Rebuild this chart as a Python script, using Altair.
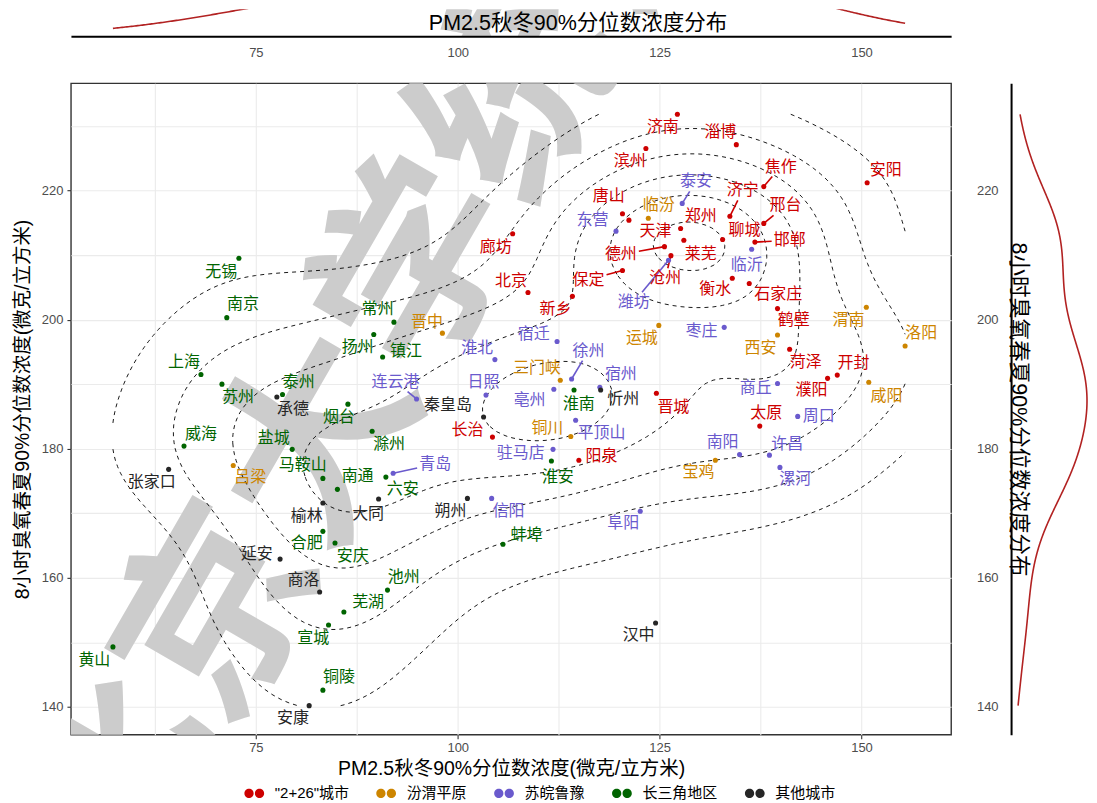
import numpy as np
import pandas as pd
import altair as alt
from collections import defaultdict

# ---------------- data ----------------
GROUPS = ['"2+26"城市', '汾渭平原', '苏皖鲁豫', '长三角地区', '其他城市']
COLORS = ['#CD0000', '#CD8500', '#6A5ACD', '#006400', '#262626']

g1_city = ["济南", "淄博", "滨州", "焦作", "安阳", "济宁", "邢台", "唐山", "天津", "郑州", "莱芜", "聊城", "邯郸", "廊坊", "北京",
           "德州", "沧州", "保定", "衡水", "石家庄", "新乡", "鹤壁", "菏泽", "开封", "濮阳", "太原", "晋城", "长治", "阳泉"]
g1_pm = [127.2, 134.5, 123.3, 137.9, 150.7, 133.7, 137.9, 120.4, 121.2, 127.6, 128.0, 132.8, 136.8, 106.8, 108.7,
         125.6, 126.4, 120.4, 134.0, 136.1, 114.2, 139.6, 141.1, 147.0, 145.8, 137.4, 124.6, 104.3, 115.0]
g1_o3 = [231.8, 227.1, 226.5, 220.6, 221.2, 216.0, 214.9, 216.4, 215.4, 214.1, 212.3, 212.4, 212.0, 213.3, 204.2,
         211.3, 209.9, 207.6, 206.4, 205.6, 203.6, 201.7, 195.4, 191.4, 190.9, 183.5, 188.6, 181.8, 178.2]
g1_lx = [125.4, 132.5, 121.3, 140.0, 153.0, 135.3, 140.6, 118.7, 124.5, 130.1, 130.1, 135.5, 141.1, 104.7, 106.6,
         120.2, 125.7, 116.2, 131.9, 139.7, 112.1, 141.6, 143.1, 149.0, 143.8, 138.2, 126.7, 101.2, 117.8]
g1_ly = [229.9, 229.0, 224.5, 223.7, 223.1, 220.0, 217.7, 219.1, 213.7, 216.0, 210.1, 213.8, 212.3, 211.2, 205.9,
         210.1, 206.4, 206.2, 204.7, 203.9, 201.6, 200.0, 193.4, 193.2, 189.1, 185.5, 186.4, 182.9, 178.8]

g2_city = ["临汾", "晋中", "运城", "三门峡", "铜川", "渭南", "西安", "洛阳", "咸阳", "宝鸡", "吕梁"]
g2_pm = [123.6, 98.1, 124.9, 112.7, 114.0, 150.6, 139.6, 155.4, 150.9, 131.9, 72.2]
g2_o3 = [215.7, 197.9, 199.1, 190.6, 181.9, 201.9, 197.6, 195.9, 190.3, 178.2, 177.4]
g2_lx = [124.9, 96.2, 122.8, 109.8, 111.1, 148.4, 137.5, 157.4, 153.1, 129.8, 74.3]
g2_ly = [217.8, 199.6, 197.1, 192.5, 183.2, 199.9, 195.6, 197.9, 188.1, 176.4, 175.6]

g3_city = ["泰安", "东营", "临沂", "潍坊", "枣庄", "宿迁", "淮北", "徐州", "宿州", "日照", "亳州", "连云港", "商丘", "周口",
           "平顶山", "驻马店", "青岛", "南阳", "许昌", "漯河", "信阳", "阜阳"]
g3_pm = [127.8, 119.6, 136.4, 126.1, 133.0, 112.3, 104.6, 114.1, 117.6, 103.5, 111.9, 94.9, 139.6, 142.1,
         114.6, 111.8, 92.0, 134.9, 138.6, 139.9, 104.2, 122.6]
g3_o3 = [218.0, 213.7, 210.9, 209.2, 198.8, 196.6, 193.8, 190.8, 189.5, 188.3, 189.2, 187.7, 190.1, 185.0,
         184.4, 179.9, 176.2, 179.1, 179.0, 177.1, 172.3, 170.3]
g3_lx = [129.5, 116.7, 135.8, 121.8, 130.2, 109.4, 102.4, 116.2, 120.2, 103.2, 108.9, 92.3, 136.9, 144.7,
         117.8, 107.8, 97.2, 132.8, 140.8, 141.8, 106.3, 120.5]
g3_ly = [221.4, 215.4, 208.4, 202.7, 198.3, 197.7, 195.6, 195.2, 191.5, 190.4, 187.5, 190.4, 189.4, 185.0,
         182.4, 179.3, 177.6, 181.0, 180.7, 175.3, 170.3, 168.5]

g4_city = ["无锡", "南京", "常州", "扬州", "镇江", "上海", "苏州", "泰州", "烟台", "威海", "盐城", "滁州", "马鞍山", "南通",
           "六安", "淮南", "淮安", "合肥", "安庆", "池州", "芜湖", "宣城", "铜陵", "黄山", "蚌埠"]
g4_pm = [72.9, 71.4, 92.1, 89.6, 90.7, 68.2, 70.8, 78.3, 86.4, 66.1, 79.5, 89.4, 83.3, 85.1,
         91.1, 114.4, 111.6, 83.3, 84.8, 91.3, 85.9, 84.0, 83.3, 57.3, 105.6]
g4_o3 = [209.5, 200.3, 199.6, 197.7, 194.2, 191.5, 190.0, 188.4, 186.9, 180.4, 179.9, 182.7, 175.4, 173.7,
         175.6, 189.1, 178.1, 167.2, 165.4, 158.1, 154.7, 152.7, 142.6, 149.3, 165.2]
g4_lx = [70.7, 73.4, 90.1, 87.6, 93.6, 66.1, 72.8, 80.3, 85.3, 68.2, 77.2, 91.5, 80.8, 87.6,
         93.2, 115.0, 112.4, 81.3, 87.0, 93.3, 88.9, 82.1, 85.3, 55.0, 108.5]
g4_ly = [207.3, 202.4, 201.6, 195.7, 195.1, 193.4, 188.0, 190.4, 184.9, 182.2, 181.6, 180.7, 177.4, 175.7,
         173.7, 187.0, 175.6, 165.4, 163.4, 160.1, 156.2, 150.7, 144.6, 147.3, 166.6]

g5_city = ["承德", "秦皇岛", "忻州", "张家口", "榆林", "大同", "朔州", "延安", "商洛", "安康", "汉中"]
g5_pm = [77.6, 103.2, 117.7, 64.2, 83.3, 90.2, 101.2, 78.0, 82.9, 81.6, 124.5]
g5_o3 = [188.0, 184.9, 189.1, 176.8, 171.6, 172.2, 172.3, 162.9, 157.8, 140.2, 153.0]
g5_lx = [79.6, 98.8, 120.5, 62.1, 81.3, 88.9, 99.1, 75.1, 80.9, 79.6, 122.4]
g5_ly = [186.1, 186.7, 187.7, 174.8, 169.6, 169.9, 170.3, 163.7, 159.7, 138.3, 151.1]

# labels drawn away from their point with a connector
seg_city = ["焦作", "济宁", "邢台", "邯郸", "泰安", "德州", "沧州", "潍坊", "保定", "徐州", "连云港", "青岛"]

X_TITLE = "PM2.5秋冬90%分位数浓度(微克/立方米)"
Y_TITLE = "8小时臭氧春夏90%分位数浓度(微克/立方米)"
TOP_TITLE = "PM2.5秋冬90%分位数浓度分布"
RIGHT_TITLE = "8小时臭氧春夏90%分位数浓度分布"
WATERMARK = "北京大学统计科学中心"

# ---------------- layout ----------------
XDOM = [52.1, 161.1]
YDOM = [135.7, 236.6]
W, H = 881, 652
TOPH = 27
RW = 77
LAB_SIZE = 16
FONT_LAT = "Liberation Sans, Noto Sans CJK SC"
FONT_CJK = "Noto Sans CJK SC"
CURVE = "#B22222"

rows = []
for g, (c, p, o, lx, ly) in zip(GROUPS, [(g1_city, g1_pm, g1_o3, g1_lx, g1_ly),
                                        (g2_city, g2_pm, g2_o3, g2_lx, g2_ly),
                                        (g3_city, g3_pm, g3_o3, g3_lx, g3_ly),
                                        (g4_city, g4_pm, g4_o3, g4_lx, g4_ly),
                                        (g5_city, g5_pm, g5_o3, g5_lx, g5_ly)]):
    for i in range(len(c)):
        rows.append(dict(city=c[i], group=g, pm=p[i], o3=o[i], lx=lx[i], ly=ly[i]))
df = pd.DataFrame(rows)

# connectors (point -> edge of label box)
sx = W / (XDOM[1] - XDOM[0])
sy = H / (YDOM[1] - YDOM[0])
segs = []
for _, r in df[df.city.isin(seg_city)].iterrows():
    dxp = (r.pm - r.lx) * sx
    dyp = (r.o3 - r.ly) * sy
    hw = len(r.city) * LAB_SIZE / 2 + 2
    hh = LAB_SIZE / 2 + 2
    t = min(hw / abs(dxp) if dxp else 1e9, hh / abs(dyp) if dyp else 1e9)
    if t < 1:
        segs.append(dict(group=r.group, x=r.pm, y=r.o3,
                         x2=r.lx + t * (r.pm - r.lx), y2=r.ly + t * (r.o3 - r.ly)))
seg_df = pd.DataFrame(segs)

# ---------------- 2D density contours (kde2d + pretty breaks) ----------------
xv = df.pm.values
yv = df.o3.values
N = len(xv)


def phi(u):
    return np.exp(-0.5 * u * u) / np.sqrt(2 * np.pi)


def bw_nrd(v):
    q1, q3 = np.quantile(v, [0.25, 0.75])
    return 4 * 1.06 * min(np.std(v, ddof=1), (q3 - q1) / 1.34) * len(v) ** (-0.2)


def bw_nrd0(v):
    q1, q3 = np.quantile(v, [0.25, 0.75])
    return 0.9 * min(np.std(v, ddof=1), (q3 - q1) / 1.34) * len(v) ** (-0.2)


hx = bw_nrd(xv) / 4
hy = bw_nrd(yv) / 4
NG = 100
gx = np.linspace(xv.min(), xv.max(), NG)
gy = np.linspace(yv.min(), yv.max(), NG)
Z = phi((gx[:, None] - xv[None, :]) / hx) @ phi((gy[:, None] - yv[None, :]) / hy).T / (N * hx * hy)


def r_pretty(lo, hi, n=10):
    cell = (hi - lo) / n
    U = 10 ** np.floor(np.log10(cell))
    unit = U
    h = 1.5
    h5 = 0.5 + 1.5 * h
    if 2 * U - cell < h * (cell - unit):
        unit = 2 * U
        if 5 * U - cell < h5 * (cell - unit):
            unit = 5 * U
            if 10 * U - cell < h * (cell - unit):
                unit = 10 * U
    ns = np.floor(lo / unit + 1e-7)
    nu = np.ceil(hi / unit - 1e-7)
    return np.arange(ns, nu + 1) * unit


def contour_lines(z, L):
    nx, ny = z.shape
    segl = []
    for i in range(nx - 1):
        for j in range(ny - 1):
            v0, v1, v2, v3 = z[i, j], z[i + 1, j], z[i + 1, j + 1], z[i, j + 1]
            c = (v0 > L) * 1 + (v1 > L) * 2 + (v2 > L) * 4 + (v3 > L) * 8
            if c == 0 or c == 15:
                continue
            eB = ('h', i, j)
            eR = ('v', i + 1, j)
            eT = ('h', i, j + 1)
            eL = ('v', i, j)
            if c == 5 or c == 10:
                above = (v0 + v1 + v2 + v3) / 4 > L
                if (c == 5) == above:
                    segl += [(eB, eR), (eT, eL)]
                else:
                    segl += [(eL, eB), (eR, eT)]
                continue
            table = {1: (eL, eB), 2: (eB, eR), 3: (eL, eR), 4: (eR, eT), 6: (eB, eT), 7: (eL, eT),
                     8: (eT, eL), 9: (eT, eB), 11: (eT, eR), 12: (eR, eL), 13: (eR, eB), 14: (eB, eL)}
            segl.append(table[c])

    def pt(key):
        kind, i, j = key
        if kind == 'h':
            a, b = z[i, j], z[i + 1, j]
            t = (L - a) / (b - a)
            return gx[i] + t * (gx[i + 1] - gx[i]), gy[j]
        a, b = z[i, j], z[i, j + 1]
        t = (L - a) / (b - a)
        return gx[i], gy[j] + t * (gy[j + 1] - gy[j])

    adj = defaultdict(list)
    for k, (a, b) in enumerate(segl):
        adj[a].append(k)
        adj[b].append(k)
    used = [False] * len(segl)
    lines = []
    starts = [k for k, v in adj.items() if len(v) == 1] + list(adj.keys())
    for s in starts:
        for k in adj[s]:
            if used[k]:
                continue
            path = [s]
            cur = s
            kk = k
            while True:
                used[kk] = True
                a, b = segl[kk]
                nxt = b if a == cur else a
                path.append(nxt)
                cur = nxt
                cand = [m for m in adj[cur] if not used[m]]
                if not cand:
                    break
                kk = cand[0]
            lines.append([pt(p) for p in path])
    return lines


crow = []
cid = 0
for L in r_pretty(Z.min(), Z.max(), 10):
    if L <= Z.min() or L >= Z.max():
        continue
    for line in contour_lines(Z, L):
        for k, (px, py) in enumerate(line):
            crow.append(dict(cx=px, cy=py, cid=cid, ci=k))
        cid += 1
cont_df = pd.DataFrame(crow)

# ---------------- marginal densities ----------------
tgx = np.linspace(xv.min(), xv.max(), 512)
tdx = phi((tgx[:, None] - xv[None, :]) / bw_nrd0(xv)).sum(1) / (N * bw_nrd0(xv))
rgy = np.linspace(yv.min(), yv.max(), 512)
rdy = phi((rgy[:, None] - yv[None, :]) / bw_nrd0(yv)).sum(1) / (N * bw_nrd0(yv))
top_df = pd.DataFrame(dict(gx=tgx, d=tdx))
right_df = pd.DataFrame(dict(gy=rgy, d=rdy))

# scale fitting of marginal panels
da, db = tdx[0], np.interp(79.3, tgx, tdx)
b_t = (35 - 8) / (db - da)
a_t = 8 - b_t * da
TDOM = [-a_t / b_t, (TOPH - a_t) / b_t]
de, dp = rdy[0], rdy.max()
b_r = (RW - 1 - 7) / (dp - de)
a_r = 7 - b_r * de
RDOM = [-a_r / b_r, (RW - a_r) / b_r]

# ---------------- charts ----------------
cscale = alt.Scale(domain=GROUPS, range=COLORS)
xs = alt.Scale(domain=XDOM, nice=False, zero=False)
ys = alt.Scale(domain=YDOM, nice=False, zero=False)

x_axis = alt.Axis(values=[62.5 + 12.5 * i for i in range(8)], format=".0f",
                  labelExpr="datum.value % 25 == 0 ? datum.label : ''",
                  tickOpacity={"condition": {"test": "datum.value % 25 == 0", "value": 1}, "value": 0},
                  grid=True, gridColor="#EBEBEB", gridWidth=1.1, domain=False,
                  ticks=True, tickColor="#333333", tickSize=4, tickWidth=1.1,
                  labelColor="#4D4D4D", labelFont=FONT_LAT, labelFontSize=13, labelPadding=3,
                  title=X_TITLE, titleFont=FONT_LAT, titleFontSize=19.5, titleFontWeight="normal",
                  titleColor="black", titlePadding=5)
y_axis = alt.Axis(values=[140 + 10 * i for i in range(10)], format=".0f",
                  labelExpr="datum.value % 20 == 0 ? datum.label : ''",
                  tickOpacity={"condition": {"test": "datum.value % 20 == 0", "value": 1}, "value": 0},
                  grid=True, gridColor="#EBEBEB", gridWidth=1.1, domain=False,
                  ticks=True, tickColor="#333333", tickSize=4, tickWidth=1.1,
                  labelColor="#4D4D4D", labelFont=FONT_LAT, labelFontSize=13, labelPadding=4,
                  title=Y_TITLE, titleFont=FONT_LAT, titleFontSize=19.5, titleFontWeight="normal",
                  titleColor="black", titlePadding=9)


def X(f):
    return alt.X(f, type="quantitative", scale=xs, axis=x_axis, title=X_TITLE)


def Y(f):
    return alt.Y(f, type="quantitative", scale=ys, axis=y_axis, title=Y_TITLE)


legend = alt.Legend(orient="none", legendX=173, legendY=774, direction="horizontal", columns=5,
                    title=None,
                    symbolType="M-0.94,0A0.44,0.44 0 1,0 -0.06,0A0.44,0.44 0 1,0 -0.94,0Z"
                               "M0.06,0A0.44,0.44 0 1,0 0.94,0A0.44,0.44 0 1,0 0.06,0Z",
                    symbolSize=441, symbolStrokeWidth=0, symbolOpacity=1,
                    symbolFillColor="black",
                    labelFont=FONT_LAT, labelFontSize=15, labelColor="black",
                    labelOffset=10, columnPadding=26)
COLOR = alt.Color("group:N", scale=cscale, legend=legend)

wm_df = pd.DataFrame({"t": [WATERMARK]})
watermark = alt.Chart(wm_df).mark_text(
    font=FONT_CJK, fontSize=200, fontWeight="bold", color="#CCCCCC", angle=300,
    align="left", baseline="middle", clip=True, text=WATERMARK
).encode(x=alt.value(3), y=alt.value(792))

contours = alt.Chart(cont_df).mark_line(color="black", strokeWidth=0.9, strokeDash=[4, 4]).encode(
    x=X("cx"), y=Y("cy"), detail="cid:N", order="ci:Q")

connectors = alt.Chart(seg_df).mark_rule(strokeWidth=1.6).encode(
    x=X("x"), y=Y("y"), x2="x2", y2="y2", color=COLOR)

points = alt.Chart(df).mark_circle(size=26, opacity=1).encode(
    x=X("pm"), y=Y("o3"), color=COLOR)

labels = alt.Chart(df).mark_text(font=FONT_CJK, fontSize=LAB_SIZE, baseline="middle").encode(
    x=X("lx"), y=Y("ly"), text="city:N", color=COLOR)

main = alt.layer(watermark, contours, connectors, points, labels).properties(
    width=W, height=H, view=alt.ViewBackground(stroke="#333333", strokeWidth=1.4))

top_axis = alt.Axis(orient="bottom", values=[75, 100, 125, 150], format=".0f", grid=False, ticks=False,
                    domain=True, domainColor="black", domainWidth=2, zindex=2,
                    labelColor="#4D4D4D", labelFont=FONT_LAT, labelFontSize=13, labelPadding=10,
                    title=TOP_TITLE, titleFont=FONT_LAT, titleFontSize=21.5, titleFontWeight="normal",
                    titleColor="black", titleX=507, titleY=-13, titleAlign="center", titleBaseline="middle")
top_curve = alt.Chart(top_df).mark_line(color=CURVE, strokeWidth=1.6, clip=True).encode(
    x=alt.X("gx:Q", scale=xs, axis=top_axis),
    y=alt.Y("d:Q", scale=alt.Scale(domain=TDOM, nice=False, zero=False), axis=None))
top_wm = alt.Chart(wm_df).mark_text(
    font=FONT_CJK, fontSize=200, fontWeight="bold", color="#CCCCCC", angle=300,
    align="left", baseline="middle", clip=True, text=WATERMARK
).encode(x=alt.value(3), y=alt.value(866))
top = alt.layer(top_wm, top_curve).properties(width=W, height=TOPH)

blank = alt.Chart(pd.DataFrame({"v": [0]})).mark_point(opacity=0, size=1).encode(
    x=alt.value(RW / 2), y=alt.value(TOPH / 2)).properties(width=RW, height=TOPH)

right_axis = alt.Axis(orient="left", values=[140, 160, 180, 200, 220], format=".0f", grid=False, ticks=False,
                      domain=True, domainColor="black", domainWidth=2,
                      labelColor="#4D4D4D", labelFont=FONT_LAT, labelFontSize=13, labelPadding=13,
                      title=RIGHT_TITLE, titleFont=FONT_LAT, titleFontSize=21.5, titleFontWeight="normal",
                      titleColor="black", titleAngle=90, titleX=6, titleY=H / 2,
                      titleAlign="center", titleBaseline="middle")
right = alt.Chart(right_df).mark_line(color=CURVE, strokeWidth=1.6, clip=True).encode(
    x=alt.X("d:Q", scale=alt.Scale(domain=RDOM, nice=False, zero=False), axis=None),
    y=alt.Y("gy:Q", scale=ys, axis=right_axis),
    order="gy:Q").properties(width=RW, height=H)

chart = alt.concat(top, blank, main, right, columns=2, spacing={"row": 47, "column": 60},
                   bounds="flush", align="each").properties(
    padding={"left": 3, "top": 0, "right": 0, "bottom": 0}, background="white"
).configure_view(stroke="transparent")

chart.save("out.html", embed_options={"renderer": "svg", "actions": False})
